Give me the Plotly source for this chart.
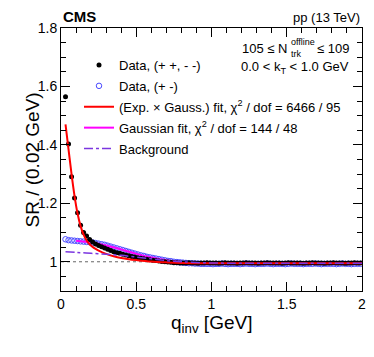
import numpy as np
import plotly.graph_objects as go

# bin centres, 0.02 GeV bins
q = np.round(np.arange(0.03, 2.0, 0.02), 2)

# Data (+ +, - -)
same_low = [1.565, 1.403, 1.291, 1.218, 1.168, 1.125, 1.100, 1.088, 1.076, 1.068,
            1.061, 1.056, 1.051, 1.047, 1.043, 1.039, 1.034, 1.031, 1.029, 1.026,
            1.023, 1.021, 1.018, 1.016, 1.014, 1.012, 1.010, 1.009, 1.007, 1.005,
            1.004, 1.003, 1.001, 1.000, 0.999, 0.998, 0.997, 0.997, 0.996]
same_tail = [0.996, 0.996, 0.997, 0.996, 0.996, 0.995, 0.996, 0.996, 0.997, 0.996,
             0.996, 0.996, 0.995, 0.996, 0.997, 0.996, 0.996, 0.996, 0.995, 0.996,
             0.996, 0.997, 0.996, 0.996, 0.996, 0.995, 0.996, 0.996, 0.997, 0.996,
             0.996, 0.996, 0.996, 0.995, 0.996, 0.997, 0.996, 0.996, 0.996, 0.996,
             0.995, 0.996, 0.996, 0.997, 0.996, 0.996, 0.996, 0.995, 0.996, 0.996,
             0.997, 0.996, 0.996, 0.996, 0.995, 0.996, 0.996, 0.997, 0.996, 0.996]
same_sign = same_low + same_tail

# Data (+ -)
opp_low = [1.077, 1.074, 1.073, 1.072, 1.071, 1.070, 1.069, 1.068, 1.067, 1.066,
           1.064, 1.062, 1.060, 1.058, 1.055, 1.052, 1.049, 1.046, 1.043, 1.040,
           1.037, 1.034, 1.031, 1.028, 1.025, 1.022, 1.020, 1.017, 1.015, 1.013,
           1.011, 1.009, 1.007, 1.005, 1.003, 1.002, 1.000, 0.999, 0.998]
opp_tail = [0.997, 0.996, 0.995, 0.995, 0.994, 0.994, 0.993, 0.993, 0.993, 0.993,
            0.992, 0.993, 0.993, 0.994, 0.993, 0.992, 0.993, 0.993, 0.993, 0.992,
            0.993, 0.994, 0.993, 0.993, 0.992, 0.993, 0.993, 0.993, 0.994, 0.993,
            0.992, 0.993, 0.993, 0.993, 0.992, 0.993, 0.994, 0.993, 0.993, 0.993,
            0.992, 0.993, 0.993, 0.993, 0.994, 0.993, 0.992, 0.993, 0.993, 0.993,
            0.993, 0.992, 0.993, 0.994, 0.993, 0.993, 0.992, 0.993, 0.993, 0.993]
opp_sign = opp_low + opp_tail

# (Exp. x Gauss.) fit
fit_q = [0.03, 0.05, 0.07, 0.09, 0.11, 0.13, 0.15, 0.17, 0.19, 0.21, 0.23, 0.25,
         0.30, 0.35, 0.40, 0.45, 0.50, 0.60, 0.70, 0.80, 1.00, 1.50, 2.00]
fit_exp_gauss = [1.470, 1.385, 1.300, 1.225, 1.165, 1.122, 1.093, 1.073, 1.060, 1.051,
                 1.044, 1.038, 1.027, 1.019, 1.013, 1.009, 1.006, 1.001, 0.998, 0.996,
                 0.995, 0.995, 0.995]

# Gaussian fit
gauss_q = [0.10, 0.20, 0.30, 0.40, 0.50, 0.60, 0.70, 0.80, 0.90, 1.00, 1.50, 2.00]
fit_gauss = [1.072, 1.066, 1.056, 1.042, 1.027, 1.015, 1.005, 0.999, 0.996, 0.994, 0.994, 0.994]

# Background
bg_q = [0.03, 0.10, 0.20, 0.30, 0.40, 0.50, 0.60, 0.70, 0.80, 1.00, 1.50, 2.00]
background = [1.034, 1.032, 1.029, 1.026, 1.022, 1.016, 1.010, 1.004, 1.000, 0.996, 0.995, 0.995]

FONT = "Liberation Sans, Arial, Helvetica, sans-serif"
W, H = 374, 357
L, R, T, B = 61, 12, 28, 66


def px(x):
    return (x - L) / (W - L - R)


def py(y):
    return (H - B - y) / (H - T - B)


fig = go.Figure()

fig.add_trace(go.Scatter(
    x=q, y=opp_sign, mode="markers", name="Data, (+ -)", legendgroup="b",
    marker=dict(symbol="circle-open", size=5.5, color="#4a4aff", line=dict(width=1)),
))
fig.add_trace(go.Scatter(
    x=gauss_q, y=fit_gauss, mode="lines", line_shape="spline", legendgroup="d",
    name="Gaussian fit, χ<sup>2</sup> / dof = 144 / 48",
    line=dict(color="#ff00ff", width=2),
))
fig.add_trace(go.Scatter(
    x=q, y=same_sign, mode="markers", name="Data, (+ +, - -)", legendgroup="a",
    marker=dict(symbol="circle", size=5, color="black"),
))
fig.add_trace(go.Scatter(
    x=fit_q, y=fit_exp_gauss, mode="lines", line_shape="spline", legendgroup="c",
    name="(Exp. × Gauss.) fit, χ<sup>2</sup> / dof = 6466 / 95",
    line=dict(color="#ff0000", width=2),
))
fig.add_trace(go.Scatter(
    x=bg_q, y=background, mode="lines", line_shape="spline", name="Background",
    legendgroup="e",
    line=dict(color="#7b36e0", width=1.5, dash="dashdot"),
))

fig.add_hline(y=1.0, line=dict(color="#666666", width=1, dash="dot"), layer="below")

axis_common = dict(
    showgrid=False, zeroline=False, showline=True, linecolor="black", linewidth=1,
    mirror="allticks", ticks="inside", ticklen=9, tickcolor="black", automargin=False,
    tickfont=dict(family=FONT, size=14, color="black"),
)

fig.update_xaxes(
    range=[0, 2], tickvals=[0, 0.5, 1, 1.5, 2], ticktext=["0", "0.5", "1", "1.5", "2"],
    minor=dict(ticks="inside", dtick=0.1, ticklen=5, tickcolor="black"),
    **axis_common,
)
fig.update_yaxes(
    range=[0.9, 1.8], tickvals=[1.0, 1.2, 1.4, 1.6, 1.8],
    ticktext=["1", "1.2", "1.4", "1.6", "1.8"],
    minor=dict(ticks="inside", dtick=0.05, tick0=0.9, ticklen=5, tickcolor="black"),
    **axis_common,
)

legend_order = [2, 0, 3, 1, 4]
for rank, idx in enumerate(legend_order):
    fig.data[idx].legendrank = rank

annotations = [
    dict(text="<b>CMS</b>", x=px(61), y=py(17), xanchor="left", font_size=15),
    dict(text="pp (13 TeV)", x=px(362), y=py(18), xanchor="right", font_size=13),
    dict(text="≤ 109", x=px(351), y=py(48), xanchor="right", font_size=13),
    dict(text="105 ≤ N", x=px(289), y=py(48), xanchor="right", font_size=13),
    dict(text="offline", x=px(289), y=py(42), xanchor="left", font_size=9),
    dict(text="trk", x=px(289), y=py(54), xanchor="left", font_size=9),
    dict(text="0.0 < k<sub>T</sub> < 1.0 GeV", x=px(351), y=py(67), xanchor="right",
         font_size=13),
    dict(text="SR / (0.02 GeV)", x=px(19), y=py(160), textangle=-90, font_size=19),
    dict(text="q<sub>inv</sub> [GeV]", x=px(211), y=py(324), font_size=19),
]
for a in annotations:
    size = a.pop("font_size")
    fig.add_annotation(xref="paper", yref="paper", showarrow=False, yanchor="middle",
                       font=dict(family=FONT, size=size, color="black"), **a)

fig.update_layout(
    width=W, height=H,
    margin=dict(l=L, r=R, t=T, b=B),
    plot_bgcolor="white", paper_bgcolor="white",
    font=dict(family=FONT, color="black"),
    showlegend=True,
    legend=dict(
        x=px(79), y=py(50), xanchor="left", yanchor="top",
        bgcolor="rgba(0,0,0,0)", font=dict(family=FONT, size=13, color="black"),
        itemwidth=30, tracegroupgap=1,
    ),
)

fig.write_html("out.html", config={"displayModeBar": False},
               post_script="document.body.style.margin='0';")
